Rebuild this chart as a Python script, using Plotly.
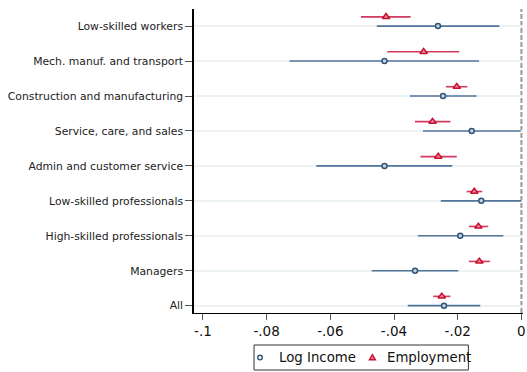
import plotly.graph_objects as go

# Occupation groups, bottom to top
categories = [
    "All",
    "Managers",
    "High-skilled professionals",
    "Low-skilled professionals",
    "Admin and customer service",
    "Service, care, and sales",
    "Construction and manufacturing",
    "Mech. manuf. and transport",
    "Low-skilled workers",
]

# Log income: point estimates and 95% CI bounds
inc_est = [-0.0243, -0.0334, -0.0192, -0.0126, -0.0430, -0.0156, -0.0246, -0.0430, -0.0262]
inc_lo = [-0.0357, -0.0470, -0.0325, -0.0253, -0.0644, -0.0309, -0.0350, -0.0728, -0.0454]
inc_hi = [-0.0129, -0.0198, -0.0057, 0.0000, -0.0217, -0.0002, -0.0141, -0.0133, -0.0069]

# Employment: point estimates and 95% CI bounds
emp_est = [-0.0250, -0.0132, -0.0135, -0.0148, -0.0261, -0.0279, -0.0203, -0.0307, -0.0425]
emp_lo = [-0.0277, -0.0165, -0.0165, -0.0172, -0.0317, -0.0334, -0.0237, -0.0421, -0.0504]
emp_hi = [-0.0223, -0.0099, -0.0104, -0.0123, -0.0203, -0.0223, -0.0170, -0.0195, -0.0348]

x_ticks = [-0.1, -0.08, -0.06, -0.04, -0.02, 0]
x_tick_labels = ["-.1", "-.08", "-.06", "-.04", "-.02", "0"]

series_names = ["Log Income", "Employment"]

ypos = list(range(len(categories)))
emp_offset = 0.266

blue_line = "#52749a"
blue_mark = "#2f5679"
blue_fill = "#c9d5e0"
red_line = "#d23a60"
red_mark = "#c8102e"
red_fill = "#e7899e"

fig = go.Figure()

fig.add_trace(go.Scatter(
    x=inc_est,
    y=ypos,
    mode="markers",
    name=series_names[0],
    showlegend=False,
    marker=dict(symbol="circle", size=5, color=blue_fill,
                line=dict(color=blue_mark, width=1.5)),
    error_x=dict(type="data", symmetric=False,
                 array=[h - e for h, e in zip(inc_hi, inc_est)],
                 arrayminus=[e - l for e, l in zip(inc_est, inc_lo)],
                 color=blue_line, thickness=1.6, width=0),
))

fig.add_trace(go.Scatter(
    x=emp_est,
    y=[p + emp_offset for p in ypos],
    mode="markers",
    name=series_names[1],
    showlegend=False,
    marker=dict(symbol="triangle-up", size=6.5, color=red_fill,
                line=dict(color=red_mark, width=1.5)),
    error_x=dict(type="data", symmetric=False,
                 array=[h - e for h, e in zip(emp_hi, emp_est)],
                 arrayminus=[e - l for e, l in zip(emp_est, emp_lo)],
                 color=red_line, thickness=1.6, width=0),
))

# Reference line at zero
fig.add_shape(type="line", xref="x", yref="paper", x0=0, x1=0, y0=0, y1=1,
              line=dict(color="#9a9a9a", width=2, dash="5px,2px"), layer="below")

# Legend box below the plot
leg_y = -0.1464
fig.add_shape(type="rect", xref="paper", yref="paper",
              x0=0.1825, x1=0.834, y0=-0.1053, y1=-0.1875,
              line=dict(color="#333333", width=1), fillcolor="white")
fig.add_shape(type="circle", xref="paper", yref="paper",
              xsizemode="pixel", ysizemode="pixel",
              xanchor=0.2007, yanchor=leg_y,
              x0=-2.3, x1=2.3, y0=-2.3, y1=2.3,
              line=dict(color=blue_mark, width=1.4), fillcolor="white")
fig.add_shape(type="path", xref="paper", yref="paper",
              xsizemode="pixel", ysizemode="pixel",
              xanchor=0.5423, yanchor=leg_y,
              path="M -3,-2.3 L 3,-2.3 L 0,2.9 Z",
              line=dict(color=red_mark, width=1.4), fillcolor=red_fill)
fig.add_annotation(text=series_names[0], xref="paper", yref="paper",
                   x=0.2515, y=leg_y, xanchor="left", yanchor="middle",
                   showarrow=False, font=dict(size=13.3, color="#111111"))
fig.add_annotation(text=series_names[1], xref="paper", yref="paper",
                   x=0.5809, y=leg_y, xanchor="left", yanchor="middle",
                   showarrow=False, font=dict(size=13.3, color="#111111"))

fig.update_layout(
    width=527,
    height=372,
    margin=dict(l=194, r=4, t=9, b=59, autoexpand=False),
    paper_bgcolor="white",
    plot_bgcolor="white",
    font=dict(family="DejaVu Sans", color="#222222", size=13),
    showlegend=False,
    xaxis=dict(
        range=[-0.1028, 0.0005],
        tickvals=x_ticks,
        ticktext=x_tick_labels,
        ticks="outside", ticklen=6, tickcolor="#555555", tickwidth=1,
        showline=True, linecolor="black", linewidth=1.2,
        showgrid=False, zeroline=False,
        tickfont=dict(size=13.5, color="#111111"),
        automargin=False,
    ),
    yaxis=dict(
        range=[-0.21, 8.49],
        tickvals=ypos,
        ticktext=categories,
        ticks="outside", ticklen=7, tickcolor="#555555", tickwidth=1,
        showline=True, linecolor="black", linewidth=1.5,
        showgrid=True, gridcolor="#edf2f2", gridwidth=1.5,
        zeroline=False,
        tickfont=dict(size=10.8, color="#222222"),
        automargin=False,
    ),
)

fig.write_html("out.html")
